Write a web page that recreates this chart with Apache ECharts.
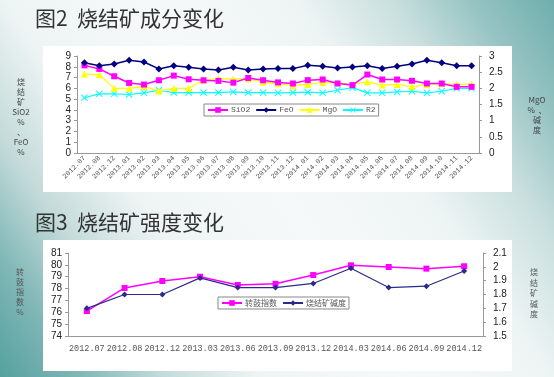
<!DOCTYPE html>
<html>
<head>
<meta charset="utf-8">
<script src="https://cdn.jsdelivr.net/npm/echarts@6/dist/echarts.min.js"></script>
<style>
html, body { margin: 0; padding: 0; }
#chart { width: 554px; height: 377px; }
</style>
</head>
<body>
<div id="chart"></div>
<script>
// fig 2 data: sinter composition
const months = [
    '2012.07', '2012.08', '2012.12',
    '2013.01', '2013.02', '2013.03', '2013.04', '2013.05', '2013.06',
    '2013.07', '2013.08', '2013.09', '2013.10', '2013.11', '2013.12',
    '2014.01', '2014.02', '2014.03', '2014.04', '2014.05', '2014.06',
    '2014.07', '2014.08', '2014.09', '2014.10', '2014.11', '2014.12'
];
const sio2 = [8.13, 7.8, 7.12, 6.5, 6.35, 6.75, 7.18, 6.84, 6.75, 6.69, 6.53, 6.96, 6.75, 6.55,
    6.45, 6.76, 6.82, 6.45, 6.3, 7.28, 6.82, 6.82, 6.7, 6.45, 6.45, 6.14, 6.14];
const feo = [8.37, 8.1, 8.25, 8.6, 8.44, 7.8, 8.1, 7.95, 7.8, 7.7, 7.95, 7.7, 7.8, 7.83,
    7.83, 8.14, 8.05, 7.89, 7.98, 8.1, 7.83, 8.05, 8.26, 8.6, 8.38, 8.1, 8.1];
const mgo = [2.44, 2.42, 2.0, 2.0, 2.06, 1.92, 2.0, 2.0, 2.25, 2.3, 2.29, 2.29, 2.19, 2.14,
    2.09, 2.12, 2.18, 2.17, 2.12, 2.2, 2.1, 2.12, 2.05, 2.12, 2.14, 2.12, 2.13];
const r2 = [1.71, 1.83, 1.83, 1.81, 1.86, 1.94, 1.87, 1.87, 1.87, 1.87, 1.89, 1.87, 1.87, 1.86,
    1.87, 1.88, 1.86, 1.94, 2.02, 1.86, 1.86, 1.89, 1.91, 1.86, 1.91, 2.0, 2.0];

// fig 3 data: sinter strength
const quarters = ['2012.07', '2012.08', '2012.12', '2013.03', '2013.06', '2013.09',
    '2013.12', '2014.03', '2014.06', '2014.09', '2014.12'];
const drumIndex = [76.1, 78.05, 78.64, 79.0, 78.3, 78.4, 79.14, 79.96, 79.82, 79.68, 79.88];
const basicity = [1.70, 1.80, 1.80, 1.92, 1.85, 1.85, 1.88, 1.99, 1.85, 1.86, 1.97];

const CJK = '"Noto Sans CJK SC", sans-serif';
const AXIS_GREY = '#999';
const X_SYMBOL = 'path://M0,1L1,0L5,4L9,0L10,1L6,5L10,9L9,10L5,6L1,10L0,9L4,5Z';

let chart = echarts.init(document.getElementById('chart'));

function value_axis(grid, pos, min, max, interval, margin) {
    return {
        type: 'value',
        gridIndex: grid,
        position: pos,
        min: min,
        max: max,
        interval: interval,
        axisLine: {show: true, lineStyle: {color: AXIS_GREY}},
        axisTick: {show: true, length: 3, lineStyle: {color: AXIS_GREY}},
        splitLine: {show: false},
        axisLabel: {fontSize: 10, color: '#222', margin: margin, fontFamily: 'Liberation Sans'}
    };
}

function line(name, data, x, y, color, symbol, size, width) {
    return {
        name: name,
        type: 'line',
        xAxisIndex: x,
        yAxisIndex: y,
        data: data,
        symbol: symbol,
        symbolSize: size,
        lineStyle: {color: color, width: width},
        itemStyle: {color: color},
        z: 3
    };
}

let options = {
    animation: false,
    backgroundColor: {
        type: 'linear', x: 0, y: 1, x2: 1, y2: 0,
        colorStops: [
            {offset: 0, color: '#55a19f'},
            {offset: 0.1, color: '#7fb7b6'},
            {offset: 0.2, color: '#c2dad9'},
            {offset: 0.32, color: '#eef4f4'},
            {offset: 0.5, color: '#f6f9f9'},
            {offset: 0.68, color: '#eef4f4'},
            {offset: 0.8, color: '#c8dfde'},
            {offset: 0.9, color: '#95c3c2'},
            {offset: 1, color: '#6faead'}
        ]
    },
    title: [
        {text: '图2  烧结矿成分变化', left: 30, top: 3,
            textStyle: {fontFamily: CJK, fontSize: 21, fontWeight: 'normal', color: '#333'}},
        {text: '图3  烧结矿强度变化', left: 30, top: 207,
            textStyle: {fontFamily: CJK, fontSize: 21, fontWeight: 'normal', color: '#333'}}
    ],
    graphic: [
        {type: 'rect', z: -1, shape: {x: 43, y: 46, width: 469, height: 146}, style: {fill: '#fff'}},
        {type: 'rect', z: -1, shape: {x: 43, y: 240, width: 469, height: 131}, style: {fill: '#fff'}},
        {type: 'text', x: 21, y: 77, style: {text: '烧\n结\n矿\nSiO2\n%\n、\nFeO\n%', textAlign: 'center',
            font: '8px "Noto Sans CJK SC"', lineHeight: 10, fill: '#444'}},
        {type: 'text', x: 537, y: 95, style: {text: 'MgO\n%  、\n碱\n度', textAlign: 'center',
            font: '8px "Noto Sans CJK SC"', lineHeight: 10, fill: '#444'}},
        {type: 'text', x: 20, y: 267, style: {text: '转\n鼓\n指\n数\n%', textAlign: 'center',
            font: '8px "Noto Sans CJK SC"', lineHeight: 10, fill: '#555'}},
        {type: 'text', x: 534, y: 267, style: {text: '烧\n结\n矿\n碱\n度', textAlign: 'center',
            font: '8px "Noto Sans CJK SC"', lineHeight: 10.5, fill: '#555'}}
    ],
    legend: [
        {
            data: ['SiO2', 'FeO', 'MgO', 'R2'],
            left: 204, top: 104,
            itemWidth: 20, itemHeight: 7, itemGap: 5,
            padding: [2, 3],
            backgroundColor: '#fff',
            borderColor: '#888', borderWidth: 1,
            textStyle: {fontSize: 8, color: '#555', fontFamily: 'Liberation Mono', padding: [0, 0, 0, -2]}
        },
        {
            data: ['转鼓指数', '烧结矿碱度'],
            left: 218, top: 297,
            itemWidth: 20, itemHeight: 7, itemGap: 5,
            padding: [2, 3],
            backgroundColor: '#fff',
            borderColor: '#888', borderWidth: 1,
            textStyle: {fontSize: 8, color: '#555', fontFamily: CJK, padding: [0, 0, 0, -2]}
        }
    ],
    grid: [
        {left: 77, top: 56, width: 402, height: 97},
        {left: 68, top: 253, width: 415, height: 83}
    ],
    xAxis: [
        {
            type: 'category',
            gridIndex: 0,
            data: months,
            boundaryGap: true,
            axisLine: {lineStyle: {color: AXIS_GREY}},
            axisTick: {length: 3, interval: 0, lineStyle: {color: AXIS_GREY}},
            axisLabel: {rotate: 45, interval: 0, fontSize: 7, margin: 4, color: '#555', fontFamily: 'Liberation Mono'}
        },
        {
            type: 'category',
            gridIndex: 1,
            data: quarters,
            boundaryGap: true,
            axisLine: {lineStyle: {color: AXIS_GREY}},
            axisTick: {length: 3, interval: 0, lineStyle: {color: AXIS_GREY}},
            axisLabel: {interval: 0, fontSize: 8.5, margin: 8, color: '#555', fontFamily: 'Liberation Mono'}
        }
    ],
    yAxis: [
        value_axis(0, 'left', 0, 9, 1, 6),
        value_axis(0, 'right', 0, 3, 0.5, 10),
        value_axis(1, 'left', 74, 81, 1, 6),
        value_axis(1, 'right', 1.5, 2.1, 0.1, 10)
    ],
    series: [
        line('R2', r2, 0, 1, '#00ffff', X_SYMBOL, 7, 1.2),
        line('MgO', mgo, 0, 1, '#ffff00', 'triangle', 7, 1.2),
        line('SiO2', sio2, 0, 0, '#ff00ff', 'rect', 6, 1.5),
        line('FeO', feo, 0, 0, '#000080', 'diamond', 7, 1.5),
        line('转鼓指数', drumIndex, 1, 2, '#ff00ff', 'rect', 6, 1.5),
        line('烧结矿碱度', basicity, 1, 3, '#2b2b8c', 'diamond', 6, 1.2)
    ]
};

chart.setOption(options);
</script>
</body>
</html>
